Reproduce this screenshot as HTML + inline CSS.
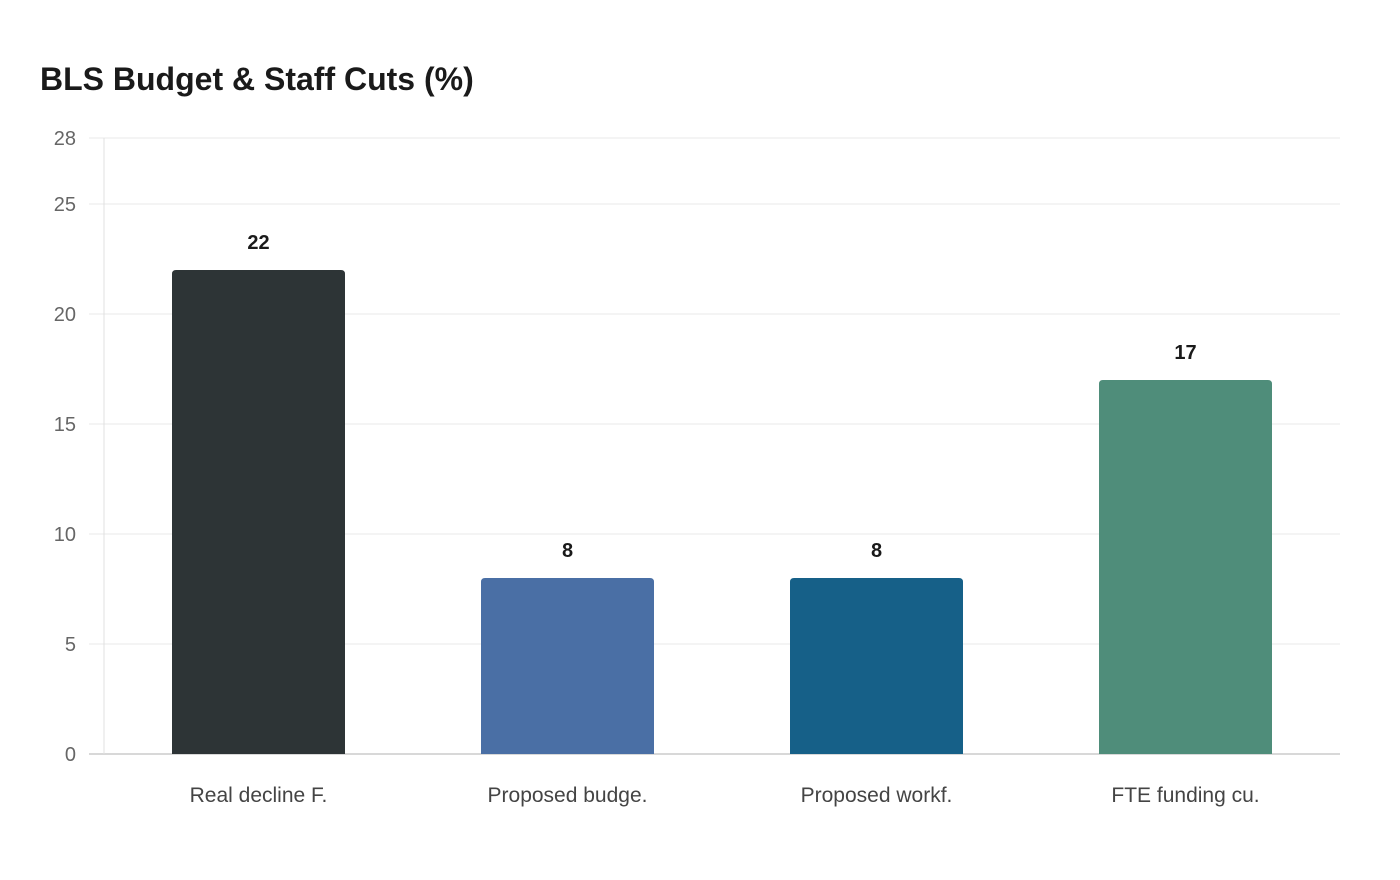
<!DOCTYPE html>
<html><head><meta charset="utf-8"><style>
body{margin:0;background:#fff;font-family:"Liberation Sans",sans-serif;}
svg{display:block}
</style></head><body>
<svg width="1400" height="880" id="chart">
<text x="40" y="90" font-size="32" font-weight="bold" fill="#1a1a1a">BLS Budget &amp; Staff Cuts (%)</text>
</svg>
<script>
const categories = ["Real decline F.", "Proposed budge.", "Proposed workf.", "FTE funding cu."];
const values = [22, 8, 8, 17];
const colors = ["#2d3436", "#4a6fa5", "#166088", "#4f8d7a"];
const ticks = [0, 5, 10, 15, 20, 25, 28];
const yMax = 28;
const svg = document.getElementById('chart');
const NS = 'http://www.w3.org/2000/svg';
const x0 = 104, x1 = 1340, yTop = 138, yBot = 754;
const y = v => yBot - (v / yMax) * (yBot - yTop);
const band = (x1 - x0) / categories.length;
const bw = 173;
function mk(tag, attrs, parent) {
  const e = document.createElementNS(NS, tag);
  for (const k in attrs) e.setAttribute(k, attrs[k]);
  (parent || svg).appendChild(e);
  return e;
}
ticks.forEach(t => {
  const g = mk('line', {x1: x0 - 15, x2: x1, y1: y(t), y2: y(t), stroke: t === 0 ? '#cccccc' : '#e8e8e8', 'stroke-width': t === 0 ? 1.5 : 1});
  
  
  const l = mk('text', {x: 76, y: y(t) + 7, 'text-anchor': 'end', 'font-size': 20, fill: '#666'});
  l.textContent = t;
  
  
});
const ax = mk('line', {x1: x0, x2: x0, y1: yTop, y2: yBot, stroke: '#e0e0e0'});


categories.forEach((c, i) => {
  const cx = x0 + band * (i + 0.5);
  const top = y(values[i]);
  const r = mk('path', {d: `M${cx - bw/2},${yBot} V${top + 4} Q${cx - bw/2},${top} ${cx - bw/2 + 4},${top} H${cx + bw/2 - 4} Q${cx + bw/2},${top} ${cx + bw/2},${top + 4} V${yBot} Z`, fill: colors[i]});
  
  
  const v = mk('text', {x: cx, y: top - 21, 'text-anchor': 'middle', 'font-size': 20, 'font-weight': 'bold', fill: '#1a1a1a'});
  v.textContent = values[i];
  
  
  const l = mk('text', {x: cx, y: 802, 'text-anchor': 'middle', 'font-size': 21, fill: '#444'});
  l.textContent = c;
  
  
});
</script>
</body></html>
